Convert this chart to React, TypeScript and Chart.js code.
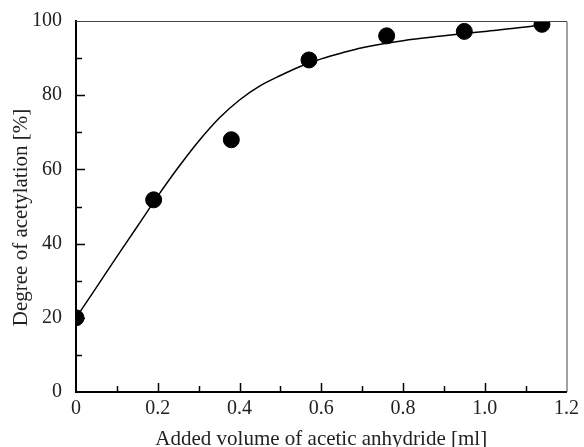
import React, { useEffect, useRef } from "react";
import { Chart, registerables } from "chart.js";

Chart.register(...registerables);

const measuredX = [0, 0.19, 0.38, 0.57, 0.76, 0.95, 1.14];
const measuredY = [20, 51.8, 68, 89.5, 96, 97.2, 99.1];

const fitX = [0, 0.05, 0.1, 0.15, 0.2, 0.25, 0.3, 0.35, 0.4, 0.45, 0.5, 0.55, 0.6, 0.65, 0.7, 0.8, 0.9, 1.0, 1.1, 1.14];
const fitY = [20, 28.2, 36.5, 44.6, 52.8, 60.5, 67.6, 73.8, 78.7, 82.5, 85.3, 87.8, 89.8, 91.4, 92.8, 94.7, 96, 97.2, 98.4, 99];

const xTitle = "Added volume of acetic anhydride [ml]";
const yTitle = "Degree of acetylation [%]";

const FONT = "'Liberation Serif', 'Times New Roman', serif";

const framePlugin = {
  id: "frameTicksTitles",
  afterDraw(chart: any) {
    const { ctx, chartArea } = chart;
    const xs = chart.scales.x;
    const ys = chart.scales.y;
    ctx.save();
    ctx.strokeStyle = "#444";
    ctx.lineWidth = 1;
    ctx.beginPath();
    ctx.moveTo(chartArea.left, chartArea.top + 0.5);
    ctx.lineTo(chartArea.right + 0.5, chartArea.top + 0.5);
    ctx.lineTo(chartArea.right + 0.5, chartArea.bottom);
    ctx.stroke();
    ctx.strokeStyle = "#000";
    ctx.lineWidth = 1.5;
    xs.ticks.forEach((t: any) => {
      const v = t.value;
      if (v <= 0 || v >= 1.2 - 1e-9) return;
      const px = Math.round(xs.getPixelForValue(v)) + 0.5;
      const major = Math.abs(Math.round(v * 10) % 2) === 0;
      const len = major ? 9 : 6;
      ctx.beginPath();
      ctx.moveTo(px, chartArea.bottom);
      ctx.lineTo(px, chartArea.bottom - len);
      ctx.stroke();
    });
    ys.ticks.forEach((t: any) => {
      const v = t.value;
      if (v <= 0 || v >= 100) return;
      const py = Math.round(ys.getPixelForValue(v)) + 0.5;
      const major = Math.round(v) % 20 === 0;
      const len = major ? 9 : 6;
      ctx.beginPath();
      ctx.moveTo(chartArea.left, py);
      ctx.lineTo(chartArea.left + len, py);
      ctx.stroke();
    });
    // axis titles
    ctx.fillStyle = "#222";
    ctx.font = `21px ${FONT}`;
    ctx.textAlign = "center";
    ctx.textBaseline = "alphabetic";
    ctx.fillText(xTitle, (chartArea.left + chartArea.right) / 2, chart.height - 2);
    ctx.translate(26.5, (chartArea.top + chartArea.bottom) / 2 + 11);
    ctx.rotate(-Math.PI / 2);
    ctx.fillText(yTitle, 0, 0);
    ctx.restore();
  },
};

export default function App() {
  const ref = useRef<HTMLCanvasElement | null>(null);
  useEffect(() => {
    document.body.style.margin = "0";
    if (!ref.current) return;
    const chart = new Chart(ref.current, {
      type: "scatter",
      data: {
        datasets: [
          {
            label: "fit",
            data: fitX.map((x, i) => ({ x, y: fitY[i] })),
            showLine: true,
            borderColor: "#000",
            borderWidth: 1.5,
            pointRadius: 0,
            cubicInterpolationMode: "monotone",
          } as any,
          {
            label: "measured",
            data: measuredX.map((x, i) => ({ x, y: measuredY[i] })),
            backgroundColor: "#000",
            borderColor: "#000",
            pointRadius: 8,
            pointHoverRadius: 8,
          },
        ],
      },
      options: {
        animation: false,
        responsive: true,
        maintainAspectRatio: false,
        events: [],
        layout: { padding: { top: 21, right: 15, left: 0, bottom: 0 } },
        plugins: { legend: { display: false }, tooltip: { enabled: false } },
        scales: {
          x: {
            type: "linear",
            min: 0,
            max: 1.2,
            afterFit: (s: any) => {
              s.height = 55;
            },
            border: { display: true, color: "#000", width: 2 },
            grid: { display: false, drawTicks: false },
            ticks: {
              stepSize: 0.1,
              autoSkip: false,
              maxRotation: 0,
              padding: 5,
              color: "#222",
              font: { family: FONT, size: 20 },
              callback: (v: any) => {
                const n = Math.round(Number(v) * 10);
                if (n % 2 !== 0) return "";
                if (n === 0) return "0";
                return (n / 10).toFixed(1);
              },
            },
            title: { display: false },
          },
          y: {
            type: "linear",
            min: 0,
            max: 100,
            afterFit: (s: any) => {
              s.width = 76;
            },
            border: { display: true, color: "#000", width: 2 },
            grid: { display: false, drawTicks: false },
            ticks: {
              stepSize: 10,
              autoSkip: false,
              padding: 14,
              color: "#222",
              font: { family: FONT, size: 20, lineHeight: 0.7 },
              callback: (v: any) => {
                const n = Math.round(Number(v));
                return n % 20 === 0 ? String(n) : "";
              },
            },
            title: { display: false },
          },
        },
      },
      plugins: [framePlugin],
    });
    return () => chart.destroy();
  }, []);
  return (
    <div style={{ position: "absolute", left: 0, top: 0, width: 584, height: 447 }}>
      <canvas ref={ref} />
    </div>
  );
}
